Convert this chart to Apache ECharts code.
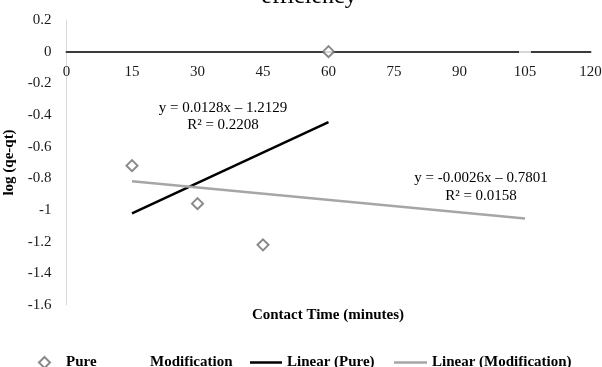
<!DOCTYPE html>
<html>
<head>
<meta charset="utf-8">
<script src="https://cdn.jsdelivr.net/npm/echarts@6/dist/echarts.min.js"></script>
<style>html,body{margin:0;padding:0;background:#fff}#c{width:602px;height:367px}</style>
</head>
<body>
<div id="c"></div>
<script>
// Data
var titleText = 'efficiency';
var xTicks = [0, 15, 30, 45, 60, 75, 90, 105, 120];
var pureX = [15, 30, 45, 60];
var pureY = [-0.72, -0.96, -1.22, 0];
var modX = [105];
var modY = [0];
var pureFit = [0.0128, -1.2129];      // slope, intercept
var pureFitRange = [15, 60];
var modFit = [-0.0026, -0.7801];
var modFitRange = [15, 105];
var pureEq = ['y = 0.0128x \u2013 1.2129', 'R\u00b2 = 0.2208'];
var modEq = ['y = -0.0026x \u2013 0.7801', 'R\u00b2 = 0.0158'];

function pts(xs, ys) { return xs.map(function (x, i) { return [x, ys[i]]; }); }
function fitLine(f, r) { return r.map(function (x) { return [x, f[0] * x + f[1]]; }); }

var FONT = '"Liberation Serif", "Times New Roman", serif';
var GRID_TOP = 20, GRID_BOTTOM = 62, H = 367;
var YMIN = -1.6, YMAX = 0.2;
var plotH = H - GRID_TOP - GRID_BOTTOM;
var zeroOffset = -plotH * (0 - YMIN) / (YMAX - YMIN);

var chart = echarts.init(document.getElementById('c'), null, {renderer: 'canvas'});

function legendItem(data, left, iw, ih, pad) {
  return {
    data: [data], left: left, top: 355, itemWidth: iw, itemHeight: ih,
    selectedMode: false, padding: 0,
    textStyle: {fontFamily: FONT, fontSize: 15, fontWeight: 'bold', color: '#000', padding: [0, 0, 0, pad || 0]}
  };
}

chart.setOption({
  backgroundColor: '#fff',
  animation: false,
  title: {
    text: titleText, left: 304, top: -20, textAlign: 'center',
    textStyle: {fontFamily: FONT, fontSize: 24, fontWeight: 'normal', color: '#000'}
  },
  grid: {left: 66.5, right: 11.5, top: GRID_TOP, bottom: GRID_BOTTOM, containLabel: false, outerBoundsMode: 'none'},
  xAxis: {
    type: 'value', min: 0, max: 120, interval: 15, z: 0,
    position: 'bottom', offset: zeroOffset,
    axisLine: {onZero: false, lineStyle: {color: '#3a3a3a', width: 2}},
    axisTick: {show: false},
    splitLine: {show: false},
    axisLabel: {margin: 13, fontFamily: FONT, fontSize: 15, color: '#1a1a1a'}
  },
  yAxis: {
    type: 'value', min: YMIN, max: YMAX, interval: 0.2, z: 0,
    name: 'log (qe-qt)', nameLocation: 'middle', nameGap: 44, nameRotate: 90,
    nameTextStyle: {fontFamily: FONT, fontSize: 15, fontWeight: 'bold', color: '#000'},
    axisLine: {show: true, onZero: false, lineStyle: {color: '#d9d9d9', width: 1}},
    axisTick: {show: false},
    splitLine: {show: false},
    axisLabel: {margin: 15, fontFamily: FONT, fontSize: 15, color: '#1a1a1a',
      formatter: function (v) { return String(Math.round(v * 10) / 10); }}
  },
  legend: [
    legendItem('Pure', 38, 11, 11, 11),
    legendItem({name: 'Modification', icon: 'rect', itemStyle: {color: '#fff', opacity: 0}}, 135, 10, 10, 0),
    legendItem({name: 'Linear (Pure)', icon: 'rect', itemStyle: {color: '#000'}}, 250, 32, 2.5, 0),
    legendItem({name: 'Linear (Modification)', icon: 'rect', itemStyle: {color: '#a6a6a6'}}, 394, 33, 2.5, 0)
  ],
  graphic: [
    {type: 'text', style: {text: 'Contact Time (minutes)', x: 328, y: 315, align: 'center', verticalAlign: 'middle', font: 'bold 15px ' + FONT, fill: '#000'}},
    {type: 'text', style: {text: pureEq[0], x: 223, y: 108, align: 'center', verticalAlign: 'middle', font: '15px ' + FONT, fill: '#000'}},
    {type: 'text', style: {text: pureEq[1], x: 223, y: 125, align: 'center', verticalAlign: 'middle', font: '15px ' + FONT, fill: '#000'}},
    {type: 'text', style: {text: modEq[0], x: 481, y: 178, align: 'center', verticalAlign: 'middle', font: '15px ' + FONT, fill: '#000'}},
    {type: 'text', style: {text: modEq[1], x: 481, y: 196, align: 'center', verticalAlign: 'middle', font: '15px ' + FONT, fill: '#000'}}
  ],
  series: [
    {
      name: 'Linear (Pure)', type: 'line', data: fitLine(pureFit, pureFitRange),
      symbol: 'none', z: 3,
      lineStyle: {color: '#000', width: 2.5}, itemStyle: {color: '#000'}
    },
    {
      name: 'Linear (Modification)', type: 'line', data: fitLine(modFit, modFitRange),
      symbol: 'none', z: 3,
      lineStyle: {color: '#a6a6a6', width: 2.5}, itemStyle: {color: '#a6a6a6'}
    },
    {
      name: 'Modification', type: 'scatter', data: pts(modX, modY),
      symbol: 'rect', symbolSize: [12, 8], z: 10,
      itemStyle: {color: '#fff', borderWidth: 0}
    },
    {
      name: 'Pure', type: 'scatter', data: pts(pureX, pureY),
      symbol: 'diamond', symbolSize: 11, z: 11,
      itemStyle: {color: '#fff', borderColor: '#6b6b6b', borderWidth: 2}
    }
  ]
});
</script>
</body>
</html>
